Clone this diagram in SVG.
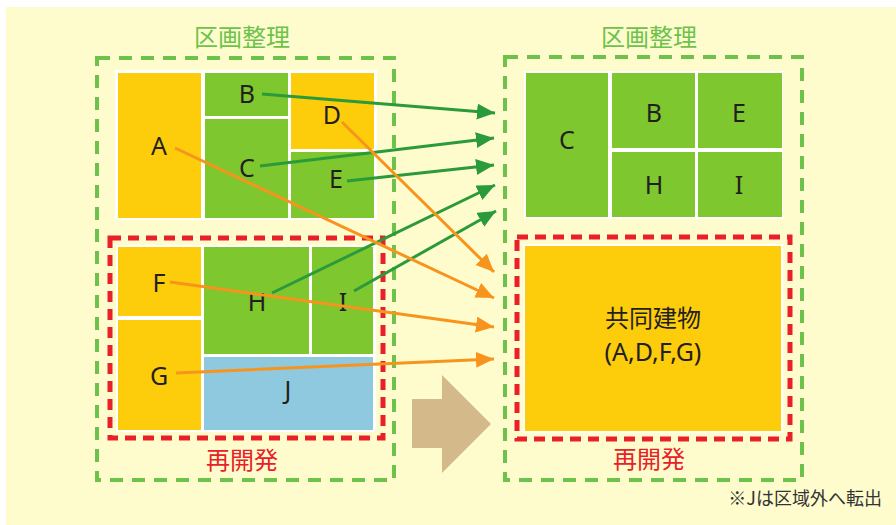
<svg xmlns="http://www.w3.org/2000/svg" width="896" height="525" viewBox="0 0 896 525">
<defs>
<style>
.gdash{fill:none;stroke:#6CC24A;stroke-width:4;stroke-dasharray:13 9}
.rdash{fill:none;stroke:#E8202A;stroke-width:5;stroke-dasharray:11 7}
.yel{fill:#FDCC0B}
.grn{fill:#7EC72E}
.blu{fill:#8FC9E0}
.wht{fill:#FFFFFF}
.lbl{font-family:"Noto Sans","DejaVu Sans",sans-serif;font-size:25px;fill:#231F20;text-anchor:middle}
.jp{font-family:"Noto Sans CJK JP",sans-serif;font-size:24px;text-anchor:middle}
.ga{stroke:#2B9A3B;stroke-width:3;fill:none;marker-end:url(#mg)}
.oa{stroke:#F7941D;stroke-width:3;fill:none;marker-end:url(#mo)}
</style>
<marker id="mg" markerUnits="userSpaceOnUse" markerWidth="20" markerHeight="18" refX="18" refY="8" orient="auto"><path d="M0,0 L18,8 L0,16 z" fill="#2B9A3B"/></marker>
<marker id="mo" markerUnits="userSpaceOnUse" markerWidth="20" markerHeight="18" refX="18" refY="8" orient="auto"><path d="M0,0 L18,8 L0,16 z" fill="#F7941D"/></marker>
</defs>
<rect x="0" y="0" width="896" height="525" fill="#FFFFFF"/>
<rect x="6" y="7" width="890" height="518" fill="#FEFCCD"/>

<g id="left-kukaku">
<text class="jp" x="242" y="46" fill="#6CC24A">区画整理</text>
<rect class="gdash" x="97" y="58" width="297" height="422"/>
<rect class="wht" x="115" y="70" width="262" height="150"/>
</g>
<g id="A"><rect class="yel" x="118" y="73" width="83" height="145"/><text class="lbl" x="159" y="155">A</text></g>
<g id="B"><rect class="grn" x="205" y="73" width="83" height="43"/><text class="lbl" x="247" y="103">B</text></g>
<g id="C"><rect class="grn" x="205" y="119" width="83" height="99"/><text class="lbl" x="247" y="177">C</text></g>
<g id="D"><rect class="yel" x="291" y="73" width="83" height="76"/><text class="lbl" x="332" y="124">D</text></g>
<g id="E"><rect class="grn" x="291" y="152" width="83" height="66"/><text class="lbl" x="336" y="188">E</text></g>

<g id="left-saikaihatsu">
<rect class="rdash" x="110" y="238" width="273" height="200"/>
<rect class="wht" x="116" y="245" width="260" height="187"/>
<text class="jp" x="242" y="469" fill="#E8202A">再開発</text>
</g>
<g id="F"><rect class="yel" x="118" y="247" width="83" height="69"/><text class="lbl" x="159" y="292">F</text></g>
<g id="G"><rect class="yel" x="118" y="320" width="83" height="110"/><text class="lbl" x="159" y="385">G</text></g>
<g id="H"><rect class="grn" x="204" y="247" width="105" height="107"/><text class="lbl" x="257" y="311">H</text></g>
<g id="I"><rect class="grn" x="312" y="247" width="61" height="107"/><text class="lbl" x="343" y="311">I</text></g>
<g id="J"><rect class="blu" x="204" y="357" width="169" height="73"/><text class="lbl" x="288" y="399">J</text></g>

<g id="right-kukaku">
<text class="jp" x="649" y="46" fill="#6CC24A">区画整理</text>
<rect class="gdash" x="505" y="57" width="297" height="423"/>
<rect class="wht" x="524" y="71" width="259" height="148"/>
</g>
<g id="rC"><rect class="grn" x="526" y="73" width="82" height="144"/><text class="lbl" x="567" y="149">C</text></g>
<g id="rB"><rect class="grn" x="612" y="73" width="83" height="75"/><text class="lbl" x="654" y="122">B</text></g>
<g id="rE"><rect class="grn" x="698" y="73" width="84" height="75"/><text class="lbl" x="739" y="122">E</text></g>
<g id="rH"><rect class="grn" x="612" y="152" width="83" height="65"/><text class="lbl" x="654" y="194">H</text></g>
<g id="rI"><rect class="grn" x="698" y="152" width="84" height="65"/><text class="lbl" x="739" y="194">I</text></g>

<g id="right-saikaihatsu">
<rect class="rdash" x="517" y="237" width="273" height="202"/>
<rect class="wht" x="523" y="244" width="260" height="189"/>
<rect class="yel" x="525" y="246" width="256" height="185"/>
<text class="jp" x="653" y="327" fill="#231F20">共同建物</text>
<text class="lbl" x="653" y="361" font-size="24">(A,D,F,G)</text>
<text class="jp" x="649" y="468" fill="#E8202A">再開発</text>
</g>

<g id="big-arrow">
<path d="M412,399 L442,399 L442,375 L491,424 L442,473 L442,448 L412,448 z" fill="#D4B98A"/>
</g>

<g id="connectors">
<line class="ga" x1="262" y1="94" x2="495" y2="113"/>
<line class="ga" x1="260" y1="166" x2="494" y2="138"/>
<line class="ga" x1="347" y1="181" x2="494" y2="165"/>
<line class="ga" x1="272" y1="293" x2="495" y2="185"/>
<line class="ga" x1="354" y1="291" x2="496" y2="211"/>
<line class="oa" x1="342" y1="122" x2="494" y2="272"/>
<line class="oa" x1="175" y1="148" x2="494" y2="298"/>
<line class="oa" x1="170" y1="282" x2="494" y2="327"/>
<line class="oa" x1="176" y1="373" x2="494" y2="359"/>
</g>

<text x="882" y="505" font-family="'Noto Sans CJK JP',sans-serif" font-size="18" fill="#333333" text-anchor="end">※Jは区域外へ転出</text>
</svg>
